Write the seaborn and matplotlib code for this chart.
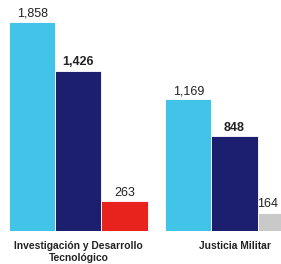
import matplotlib
matplotlib.use("Agg")
import matplotlib.pyplot as plt
import seaborn as sns
import pandas as pd

categories = ["Investigación y Desarrollo\nTecnológico", "Justicia Militar"]
series = ["Serie 1", "Serie 2", "Serie 3"]
values_1 = [1858, 1169]
values_2 = [1426, 848]
values_3 = [263, 164]
series_colors = ["#42c4e8", "#1c1f6d", "#e8231e"]
extra_bar_color = "#c9c9c9"  # third bar of second group appears grey

rows = []
for s, vals in zip(series, [values_1, values_2, values_3]):
    for c, v in zip(categories, vals):
        rows.append({"categoria": c, "serie": s, "valor": v})
df = pd.DataFrame(rows)

sns.set_theme(style="white")
plt.rcParams['font.family'] = ['Liberation Sans', 'DejaVu Sans']

fig = plt.figure(figsize=(2.81, 2.64), dpi=100)
ax = fig.add_axes([0, 33 / 264, 1, 231 / 264])

sns.barplot(data=df, x="categoria", y="valor", hue="serie", palette=series_colors,
            width=0.885, errorbar=None, legend=False, ax=ax,
            edgecolor="white", linewidth=0.6, saturation=1)

# recolor grey bar
grey_bar = ax.containers[2].patches[1]
grey_bar.set_facecolor(extra_bar_color)

weights = ["normal", "bold", "normal"]
for cont, w in zip(ax.containers, weights):
    anns = ax.bar_label(cont, labels=[f"{v:,.0f}" for v in cont.datavalues], padding=1.5,
                        fontsize=9, fontweight=w, color="#222222")
    if cont is ax.containers[2]:
        a = anns[1]
        a.xy = (grey_bar.get_x(), grey_bar.get_height())
        a.set_ha("left")

ax.set_xlim(-0.503, 1.298)
ax.set_ylim(0, 2053)
ax.set_xlabel("")
ax.set_ylabel("")
ax.set_yticks([])
for sp in ax.spines.values():
    sp.set_visible(False)
ax.tick_params(axis="x", length=0, pad=7)
for lbl in ax.get_xticklabels():
    lbl.set_fontfamily(['Liberation Sans Narrow', 'Liberation Sans', 'DejaVu Sans'])
    lbl.set_fontweight("bold")
    lbl.set_fontsize(7.4)
    lbl.set_color("#222222")
    lbl.set_linespacing(1.25)

fig.savefig("out.png", dpi=100)
